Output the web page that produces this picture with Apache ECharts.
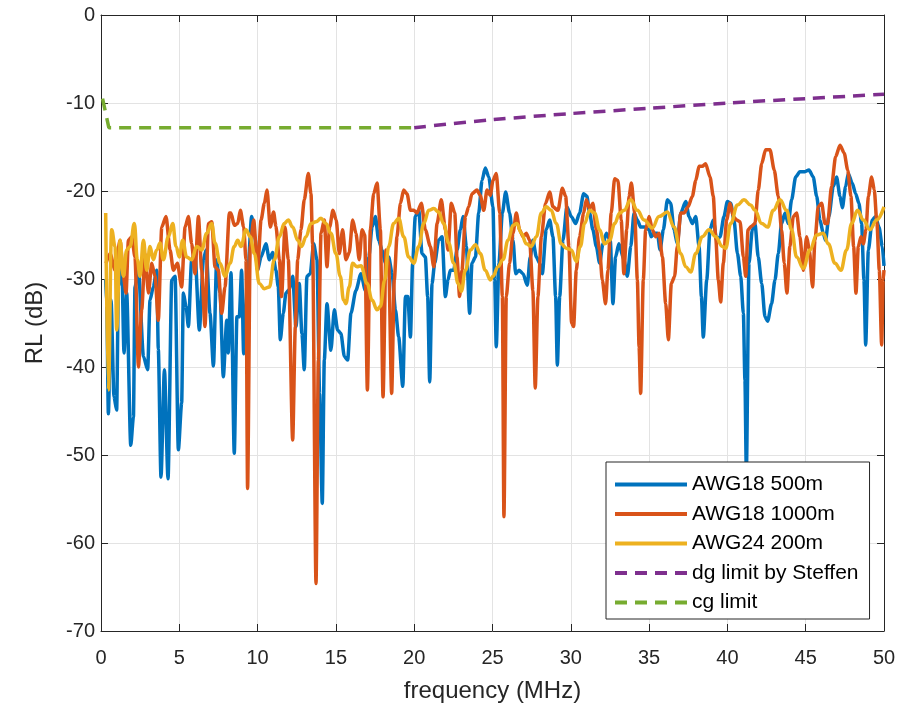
<!DOCTYPE html>
<html>
<head>
<meta charset="utf-8">
<script src="https://cdn.jsdelivr.net/npm/echarts@6/dist/echarts.min.js"></script>
<style>
html,body{margin:0;padding:0;background:#fff;}
#chart{width:910px;height:708px;}
</style>
</head>
<body>
<div id="chart"></div>
<script>
// ---- data (frequency in MHz, return loss in dB) ----
const seriesNames = ['AWG18 500m', 'AWG18 1000m', 'AWG24 200m', 'dg limit by Steffen', 'cg limit'];

const blueF = [0.30,0.37,0.47,0.64,0.83,1.00,1.11,1.32,1.47,1.64,1.90,2.07,2.17,2.39,2.71,2.98,3.13,3.34,3.56,3.66,3.83,4.05,4.28,4.52,4.73,4.94,5.15,5.26,5.43,5.58,5.79,6.00,6.28,6.54,6.71,6.96,7.18,7.39,7.60,7.81,8.03,8.13,8.30,
8.51,8.68,8.83,8.98,9.11,9.36,9.62,9.83,10.00,10.22,10.53,10.75,10.96,11.17,11.32,11.45,11.64,11.81,12.02,12.24,12.45,12.66,12.83,12.98,13.15,13.36,13.58,13.79,13.96,14.13,14.26,14.43,14.68,14.90,15.11,15.32,15.54,15.75,15.96,16.28,16.60,
16.88,17.10,17.31,17.52,17.73,17.95,18.16,18.37,18.59,18.80,19.01,19.27,19.44,19.59,19.76,19.90,20.07,20.29,20.50,20.71,20.86,20.99,21.14,21.31,21.56,21.78,21.99,22.16,22.31,22.52,22.74,22.95,23.12,23.33,23.54,23.69,23.91,24.12,24.33,24.54,24.76,25.03,
25.14,25.24,25.41,25.63,25.84,26.09,26.31,26.48,26.69,26.95,27.22,27.41,27.58,27.80,28.01,28.18,28.43,28.65,28.86,29.03,29.14,29.29,29.50,29.75,30.03,30.31,30.56,30.82,31.03,31.20,31.41,31.63,31.84,32.05,32.27,32.52,32.69,32.86,33.07,33.39,
33.61,33.83,34.04,34.25,34.46,34.72,35.00,35.14,35.36,35.53,35.70,35.91,36.17,36.38,36.59,36.80,37.02,37.34,37.55,37.76,37.98,38.19,38.34,38.46,38.68,38.89,39.10,39.32,39.53,39.78,40.00,40.21,40.42,40.64,40.85,41.02,41.12,41.21,41.38,41.59,41.76,
41.97,42.19,42.40,42.57,42.82,43.04,43.25,43.46,43.68,43.89,44.10,44.36,44.63,44.95,45.21,45.48,45.70,45.91,46.12,46.27,46.48,46.76,46.97,47.19,47.34,47.55,47.72,47.97,48.19,48.40,48.57,48.72,48.83,49.00,49.25,49.46,49.68,49.89,50.00];
const blueRL = [-30,-33,-45.3,-32.4,-43.4,-44.9,-30.9,-27.8,-38.4,-31.6,-48.9,-45.7,-30.9,-29,-38.8,-40.3,-32.4,-30.9,-29,-38,-52.5,-40.3,-52.7,-30.1,-29.7,-49.4,-44.1,-31.6,-33.1,-35.4,-27.8,-27.1,-35.8,-27.8,-26.7,-33.9,-39.9,-27.8,-31.6,-41.1,-34.7,-38.4,-29.3,
-49.8,-34.3,-34.3,-29,-38.5,-29.7,-22.9,-25.2,-29,-27.5,-26,-27.8,-27,-29,-30.9,-36.9,-33.9,-31.6,-31.2,-29.7,-35.4,-30.5,-36.2,-40.3,-29.7,-29.4,-26,-27.8,-43,-55.5,-39.2,-32.8,-38.1,-33.5,-35.8,-36.2,-38.8,-39.2,-33.9,-31.3,-29.4,
-31.3,-27.5,-24.1,-22.9,-25.6,-26.7,-28.2,-27.5,-29.4,-33.5,-36.6,-42.2,-32,-32,-36.6,-28.2,-22.9,-22.2,-27.1,-27.5,-32,-41.7,-30.5,-28.2,-25.6,-25.2,-32,-30.1,-29,-29,-26.7,-24.4,-22.9,-26.3,-33.9,-28.2,-27.5,-22.5,-18.8,-17.4,-18.4,-21.8,
-30.1,-37.7,-28.2,-22.5,-20.1,-22.5,-25.6,-29.4,-29,-29.4,-30.7,-27.5,-25.6,-27.5,-28.2,-29.4,-24.4,-23.3,-25.2,-32,-39.8,-32,-25.6,-21.8,-22.9,-23.7,-22.5,-20.3,-20.6,-22.5,-24.4,-26.3,-28.2,-26,-24.8,-25.6,-32.8,-27.5,-26,-27.8,
-29.7,-26.3,-22.5,-23.3,-24.1,-24.1,-24.4,-25.2,-24.8,-24.8,-26.7,-24.4,-21,-21.4,-24.4,-26,-22.5,-21.2,-22.9,-23.7,-22.9,-26.3,-32,-36.6,-30.1,-24.4,-23.3,-25.6,-25.2,-22.9,-21.2,-21.4,-23.3,-27.1,-29.7,-33.9,-41.5,-52,-28.2,-24.4,-23.7,
-27.5,-30.5,-34.3,-34.8,-32.8,-30.1,-27.1,-23.7,-22.5,-23.7,-21,-18.4,-17.8,-17.8,-17.6,-18.4,-20.6,-23.3,-24.8,-25.6,-22.9,-19.5,-18.4,-20.6,-21.9,-19.5,-18,-19.1,-20.3,-21.4,-23.7,-30.1,-37.5,-26.7,-23.3,-22.9,-24.1,-26.3,-28.5];

const orangeF = [0.32,0.58,0.90,1.22,1.43,1.60,1.75,1.96,2.17,2.39,2.60,2.81,3.03,3.24,3.45,3.66,3.88,4.15,4.41,4.62,4.88,5.15,5.37,5.58,5.79,6.00,6.22,6.43,6.64,6.86,7.07,7.28,7.49,7.71,7.92,8.20,
8.30,8.51,8.73,8.90,9.11,9.26,9.36,9.53,9.75,10.00,10.22,10.43,10.60,10.81,11.02,11.17,11.39,11.53,11.75,11.96,12.24,12.41,12.56,12.77,12.98,13.24,13.41,13.51,13.73,13.88,14.05,14.26,14.43,14.60,14.81,15.02,15.22,15.43,15.64,15.85,16.07,16.28,16.49,
16.67,16.84,17.01,17.20,17.41,17.63,17.84,18.01,18.20,18.37,18.56,18.73,18.90,19.12,19.33,19.54,19.76,19.97,20.18,20.46,20.71,21.03,21.25,21.46,21.73,21.99,22.16,22.37,22.59,22.73,22.90,23.05,23.27,23.48,23.69,24.01,24.22,24.44,24.65,24.86,
25.03,25.24,25.46,25.63,25.73,25.88,26.09,26.31,26.52,26.73,26.95,27.16,27.37,27.58,27.73,27.90,28.12,28.39,28.65,28.86,29.18,29.46,29.67,29.88,30.05,30.18,30.35,30.56,30.82,30.99,31.20,31.41,31.63,31.84,32.01,32.22,32.37,32.58,32.80,33.01,33.22,33.39,
33.57,33.72,33.87,34.08,34.25,34.36,34.46,34.63,34.78,35.00,35.21,35.42,35.63,35.85,36.06,36.23,36.42,36.63,36.80,37.02,37.23,37.49,37.76,37.98,38.19,38.40,38.61,38.89,39.10,39.25,39.42,39.57,39.74,39.95,40.17,40.38,40.59,40.81,41.02,41.17,41.32,41.53,41.76,
41.97,42.19,42.44,42.72,42.99,43.25,43.46,43.63,43.80,43.99,44.21,44.42,44.63,44.85,45.06,45.23,45.44,45.59,45.80,46.02,46.23,46.40,46.65,46.91,47.19,47.46,47.68,47.89,48.06,48.21,48.36,48.53,48.68,48.85,49.00,49.21,49.38,49.55,49.70,49.85,49.95,50.00];
const orangeRL = [-28.2,-27.1,-29,-25.6,-29.7,-31.6,-25.6,-25.2,-27.5,-40,-33.5,-27.1,-31.6,-28.2,-29.7,-34.7,-24.1,-22.9,-26.7,-29,-28.2,-30.9,-24.1,-22.9,-26,-29.4,-22.9,-29,-35.4,-23.7,-23.5,-28.6,-29,-33.9,-30.9,-22.5,
-22.5,-23.9,-23.7,-22.2,-24.1,-27.8,-53.8,-26.3,-23.3,-29,-23.3,-21.4,-19.9,-24.1,-22.4,-24,-27.8,-32,-24.1,-27.8,-48.3,-35.4,-27.8,-24.4,-21,-18,-20.3,-26,-64.6,-39.2,-24.8,-23.3,-28.6,-24.1,-22.2,-23.3,-27.1,-24.4,-27.8,-27,-23.3,-24.8,-27.8,
-24.4,-25,-42.6,-24.4,-20.3,-19.1,-24.4,-43.4,-26.7,-28.2,-43,-30.1,-25.2,-21.4,-19.9,-20.3,-22.2,-22.2,-22.5,-21.4,-24.4,-26.3,-28.6,-23.7,-21,-24.4,-26.7,-21.4,-22.5,-27.5,-32,-29,-22.9,-21.8,-20.3,-19.9,-20.5,-22.2,-19.9,-20.5,
-18.8,-18,-22.5,-32,-57,-32,-28.2,-24.8,-22.5,-24.4,-25.2,-24.8,-25.6,-31.3,-42.4,-32,-25.2,-21.4,-20.1,-21.8,-22.2,-19.7,-20.6,-26.3,-35,-35.4,-29,-25.2,-22.5,-21,-22,-21.4,-24.4,-26.7,-30.1,-32.8,-29,-22.5,-18.6,-18.8,-23.3,-29.4,
-24.4,-20.6,-19.1,-22.5,-30.1,-37.7,-43,-30.1,-24.4,-22.9,-24.4,-25.2,-24.8,-27.5,-32.8,-36.9,-30.5,-29.7,-26.3,-22.5,-22.5,-21.8,-20.6,-18.8,-17.2,-17.2,-16.9,-18.4,-20.6,-25.2,-30.1,-32.6,-28.2,-23.3,-21.4,-22.9,-23.3,-23.5,-27.5,-29.7,-24.4,-24,-23.7,
-19.9,-16.9,-15.3,-15.3,-17.6,-20.6,-24.4,-28.2,-31.6,-26.3,-22.9,-22.5,-25.2,-29,-25.2,-26.7,-30.9,-25.6,-21.8,-21.4,-23.7,-23.7,-19.5,-16.1,-14.8,-15.7,-17.6,-20.6,-26.3,-31.6,-26.3,-25.2,-26,-24.4,-20.6,-18.4,-19.9,-23.7,-29,-37.5,-30.1,-29];

const yellowF = [0.30,0.47,0.68,0.90,1.00,1.22,1.43,1.64,1.86,2.13,2.32,2.49,2.71,2.92,3.13,3.34,3.56,3.77,3.98,4.30,4.58,4.79,5.00,5.22,5.47,5.79,6.11,6.43,6.75,7.07,7.28,7.60,7.92,8.24,
8.51,8.73,8.94,9.26,9.53,9.79,10.11,10.43,10.75,11.07,11.39,11.70,11.96,12.24,12.56,12.81,13.09,13.41,13.73,14.05,14.36,14.68,15.00,15.28,15.49,15.64,15.85,16.07,16.34,16.60,
16.99,17.31,17.63,17.84,18.12,18.37,18.69,19.01,19.33,19.65,19.97,20.29,20.61,20.93,21.25,21.56,21.88,22.20,22.52,22.80,23.01,23.27,23.59,23.91,24.22,24.54,24.86,
25.03,25.35,25.67,25.99,26.31,26.56,26.84,27.16,27.48,27.80,28.12,28.43,28.75,29.07,29.39,29.71,30.03,30.35,30.61,30.88,31.20,31.52,31.84,32.16,32.48,32.80,33.12,
33.40,33.83,34.25,34.68,35.21,35.63,36.17,36.59,37.02,37.34,37.66,37.98,38.40,38.83,39.25,39.68,39.89,40.21,40.64,41.06,41.49,
41.76,42.19,42.57,42.93,43.36,43.78,44.10,44.42,44.85,45.27,45.70,46.12,46.44,46.87,47.25,47.61,47.93,48.31,48.68,49.10,49.53,50.00];
const yellowRL = [-22.5,-42.6,-24.4,-26.3,-35.8,-25.6,-29.7,-26.7,-26.3,-23.7,-27.8,-29.7,-25.6,-29,-26.3,-27.8,-26.7,-25.9,-27.8,-25.2,-23.7,-26.3,-27.5,-25.6,-27.5,-27.8,-26.3,-26.7,-24.8,-23.7,-25.9,-28.2,-29.7,-28.2,
-26.3,-25.6,-26.3,-24.4,-25.2,-27.1,-30.5,-31.1,-30.9,-27.8,-25.2,-23.7,-23.3,-24.1,-25.6,-26.3,-25.2,-23.7,-23.5,-23.1,-23.7,-24.8,-27.1,-29.7,-32.4,-32.8,-30.9,-28.2,-28.6,-28.5,
-30.5,-32.4,-33.5,-33.1,-30.1,-26.3,-23.7,-23.1,-25.2,-27.5,-28.2,-26.3,-23.7,-22.2,-22,-22.4,-23.7,-25.9,-28.2,-30.5,-31.4,-29,-26.7,-26.1,-27.1,-29,-30.1,
-29.7,-28.6,-27.8,-25.6,-23.9,-23.7,-24.8,-26,-26.3,-25.2,-22.5,-21.8,-22.2,-23.7,-26,-26.5,-26.7,-28,-26.3,-23.7,-22.2,-22.5,-24.4,-26,-25.6,-23.7,-22.5,
-22.2,-21,-22.2,-23.3,-24.2,-22.9,-22.4,-24.1,-27.1,-28.6,-29.2,-27.1,-25.2,-24.4,-25.2,-26.3,-26.5,-23.7,-21.6,-21,-21.6,
-22.2,-23.7,-24.1,-22.2,-21,-22.2,-24.4,-27.5,-28.8,-26.7,-25,-24.8,-26,-28.2,-29,-26.7,-23.7,-22.2,-23.3,-24.4,-23.3,-21.8];

const dgF = [20, 25, 30, 35, 40, 45, 50];
const dgRL = [-12.8, -11.9, -11.2, -10.6, -10.0, -9.5, -9.0];
const cgF = [0.1, 0.5, 20];
const cgRL = [-9.5, -12.8, -12.8];

const xTicks = {min: 0, max: 50, step: 5};
const yTicks = {min: -70, max: 0, step: 10};

// ---- chart ----
function pairs(f, v) { return f.map((x, i) => [x, v[i]]); }
const AX = '#262626';
const FONT = 'Liberation Sans, Arial, Helvetica, sans-serif';

const chart = echarts.init(document.getElementById('chart'), null, {renderer: 'canvas'});
const lineBase = {type: 'line', showSymbol: false, symbol: 'none', animation: false, xAxisIndex: 0, yAxisIndex: 0};
const axCommon = {
  axisLine: {show: true, onZero: false, lineStyle: {color: AX, width: 1}},
  axisTick: {show: true, inside: true, length: 7, lineStyle: {color: AX, width: 1}},
  axisLabel: {color: AX, fontSize: 20, fontFamily: FONT},
};
chart.setOption({
  animation: false,
  backgroundColor: '#ffffff',
  grid: {left: 101, right: 26, top: 15, bottom: 77, containLabel: false},
  xAxis: [
    Object.assign({}, axCommon, {
      type: 'value', position: 'bottom', min: xTicks.min, max: xTicks.max, interval: xTicks.step,
      name: 'frequency (MHz)', nameLocation: 'middle', nameGap: 48,
      nameTextStyle: {color: AX, fontSize: 24, fontFamily: FONT},
      axisLabel: {color: AX, fontSize: 20, fontFamily: FONT, margin: 17},
      splitLine: {show: true, lineStyle: {color: '#e3e3e3', width: 1}}
    }),
    Object.assign({}, axCommon, {
      type: 'value', position: 'top', min: xTicks.min, max: xTicks.max, interval: xTicks.step,
      axisLabel: {show: false}, splitLine: {show: false}
    })
  ],
  yAxis: [
    Object.assign({}, axCommon, {
      type: 'value', position: 'left', min: yTicks.min, max: yTicks.max, interval: yTicks.step,
      name: 'RL (dB)', nameLocation: 'middle', nameGap: 54, nameRotate: 90,
      nameTextStyle: {color: AX, fontSize: 24, fontFamily: FONT},
      axisLabel: {color: AX, fontSize: 20, fontFamily: FONT, margin: 6},
      splitLine: {show: true, lineStyle: {color: '#e3e3e3', width: 1}}
    }),
    Object.assign({}, axCommon, {
      type: 'value', position: 'right', min: yTicks.min, max: yTicks.max, interval: yTicks.step,
      axisLabel: {show: false}, splitLine: {show: false}
    })
  ],
  legend: {
    orient: 'vertical', left: 606, top: 462,
    padding: [12, 11, 6, 7],
    itemWidth: 72, itemHeight: 20, itemGap: 8.5,
    backgroundColor: '#ffffff', borderColor: AX, borderWidth: 1,
    itemStyle: {opacity: 0},
    lineStyle: {width: 4},
    textStyle: {color: '#000', fontSize: 21, fontFamily: FONT},
    data: seriesNames
  },
  series: [
    Object.assign({}, lineBase, {name: seriesNames[0], data: pairs(blueF, blueRL), smooth: 0.25, smoothMonotone: 'x',
      lineStyle: {color: '#0072BD', width: 3.5}, itemStyle: {color: '#0072BD'}}),
    Object.assign({}, lineBase, {name: seriesNames[1], data: pairs(orangeF, orangeRL), smooth: 0.25, smoothMonotone: 'x',
      lineStyle: {color: '#D95319', width: 3.5}, itemStyle: {color: '#D95319'}}),
    Object.assign({}, lineBase, {name: seriesNames[2], data: pairs(yellowF, yellowRL), smooth: 0.4, smoothMonotone: 'x',
      lineStyle: {color: '#EDB120', width: 3.5}, itemStyle: {color: '#EDB120'}}),
    Object.assign({}, lineBase, {name: seriesNames[3], data: pairs(dgF, dgRL), smooth: 0.3,
      lineStyle: {color: '#7E2F8E', width: 3.5, type: [12, 8]}, itemStyle: {color: '#7E2F8E'}}),
    Object.assign({}, lineBase, {name: seriesNames[4], data: pairs(cgF, cgRL),
      lineStyle: {color: '#77AC30', width: 3.5, type: [12, 8]}, itemStyle: {color: '#77AC30'}})
  ]
});
</script>
</body>
</html>
